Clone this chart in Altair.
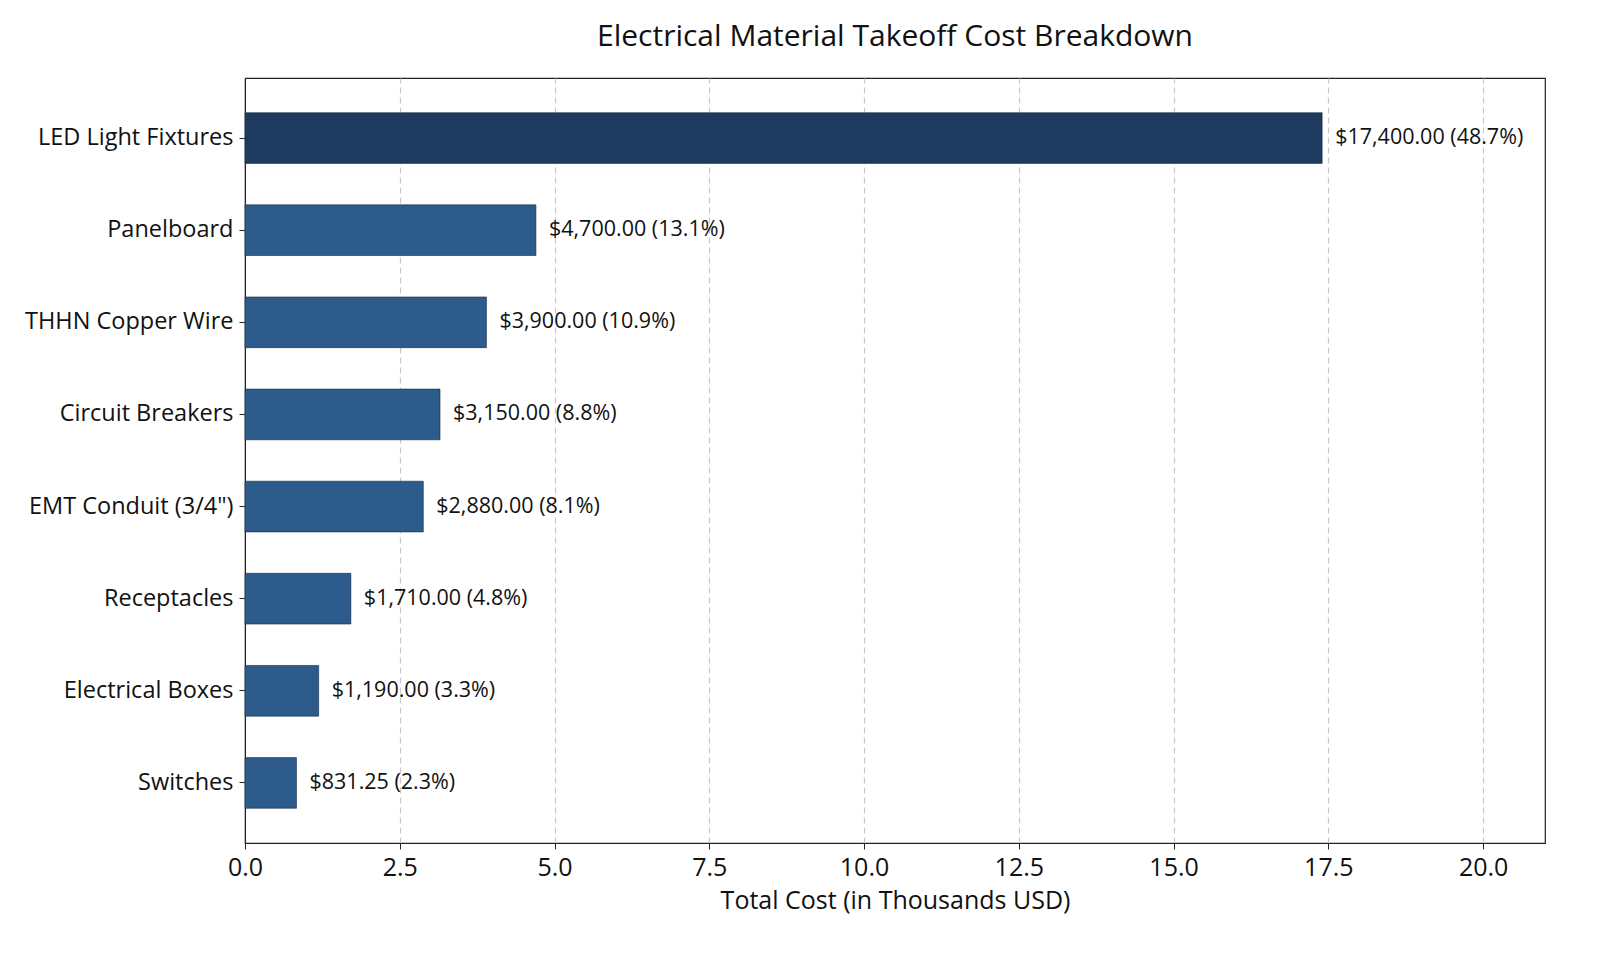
import altair as alt
import pandas as pd

items = ["LED Light Fixtures", "Panelboard", "THHN Copper Wire", "Circuit Breakers",
         "EMT Conduit (3/4\")", "Receptacles", "Electrical Boxes", "Switches"]
costs = [17400.00, 4700.00, 3900.00, 3150.00, 2880.00, 1710.00, 1190.00, 831.25]
bar_colors = ["#1e3a5f", "#2c5b8c", "#2c5b8c", "#2c5b8c", "#2c5b8c", "#2c5b8c", "#2c5b8c", "#2c5b8c"]
x_ticks = [0, 2.5, 5, 7.5, 10, 12.5, 15, 17.5, 20]

total = sum(costs)
df = pd.DataFrame({
    "item": items,
    "cost_k": [c / 1000 for c in costs],
    "color": bar_colors,
    "label": [f"${c:,.2f} ({c / total * 100:.1f}%)" for c in costs],
})

FONT = "Open Sans"

y_enc = alt.Y("item:N", sort=items, title=None,
              scale=alt.Scale(paddingInner=0.45, paddingOuter=0.377),
              axis=alt.Axis(labelFontSize=23.5, labelColor="#111", labelPadding=6,
                            labelLimit=400, tickSize=6, tickColor="#222", domainColor="#222",
                            labelFont=FONT, grid=False))
x_enc = alt.X("cost_k:Q", title="Total Cost (in Thousands USD)",
              scale=alt.Scale(domain=[0, 21], nice=False),
              axis=alt.Axis(values=x_ticks, format=".1f", labelFontSize=25,
                            labelColor="#111", labelPadding=6, labelFlush=False,
                            titleFontSize=25, titleColor="#111", titleFontWeight="normal",
                            titlePadding=8, labelFont=FONT, titleFont=FONT, tickSize=6,
                            tickColor="#222", domainColor="#222", grid=True,
                            gridDash=[6, 4], gridColor="#c8c8c8", gridWidth=1.2))

bars = alt.Chart(df).mark_bar(strokeWidth=1, stroke="#12294a", strokeOpacity=0.6).encode(
    y=y_enc, x=x_enc,
    color=alt.Color("color:N", scale=None),
)

labels = alt.Chart(df).mark_text(align="left", baseline="middle", dx=13, fontSize=21.5,
                                  font=FONT, color="#111").encode(
    y=alt.Y("item:N", sort=items),
    x=alt.X("cost_k:Q"),
    text="label:N",
)

chart = (bars + labels).properties(
    width=1300, height=765,
    title=alt.TitleParams("Electrical Material Takeoff Cost Breakdown", fontSize=30,
                          font=FONT, fontWeight="normal", color="#111", anchor="middle",
                          offset=26),
    autosize=alt.AutoSizeParams(type="none"),
    padding={"left": 237, "top": 70, "right": 10, "bottom": 95},
).configure_view(stroke="#222", strokeWidth=1.2)

chart.save("out.html", embed_options={"renderer": "svg", "actions": False})
